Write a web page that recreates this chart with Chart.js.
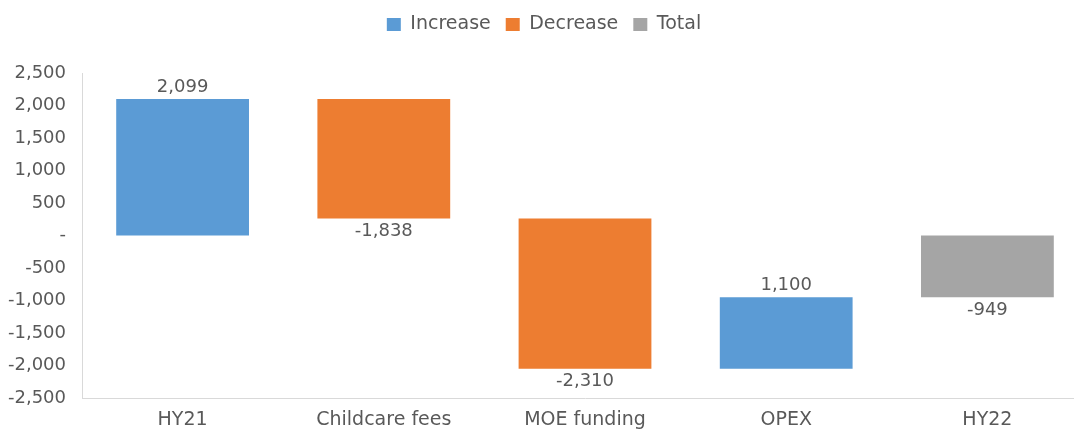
<!DOCTYPE html>
<html>
<head>
<meta charset="utf-8">
<title>HY22 bridge</title>
<script src="https://cdn.jsdelivr.net/npm/chart.js@4.4.1/dist/chart.umd.min.js"></script>
<style>
     html, body { margin: 0; padding: 0; background: #ffffff; overflow: hidden; }
     #wrap { width: 1088px; height: 435px; position: relative; }
</style>
</head>
<body>
<div id="wrap"><canvas id="bridgeChart"></canvas></div>
<script>
     var categories = ['HY21', 'Childcare fees', 'MOE funding', 'OPEX', 'HY22'];
     var changes = [2099, -1838, -2310, 1100, -949];
     var kinds = ['increase', 'decrease', 'decrease', 'increase', 'total'];
     var yTicks = [-2500, -2000, -1500, -1000, -500, 0, 500, 1000, 1500, 2000, 2500];

     var textColor = '#595959';
     var fontFamily = "'DejaVu Sans', sans-serif";

     // floating [from, to] ranges, one array per legend entry
     function buildRanges(kind) {
          var running = 0;
          return changes.map(function (value, i) {
               var from, to;
               if (kinds[i] === 'total' || i === 0) {
                    from = 0;
                    to = value;
               } else {
                    from = running;
                    to = running + value;
               }
               running = to;
               return kinds[i] === kind ? [from, to] : null;
          });
     }

     function formatNumber(v) {
          return v.toLocaleString('en-US');
     }

     // value labels: above rising bars, below falling ones
     var barLabels = {
          id: 'barLabels',
          afterDatasetsDraw: function (chart) {
               var ctx = chart.ctx;
               ctx.save();
               ctx.font = '18px ' + fontFamily;
               ctx.fillStyle = textColor;
               ctx.textAlign = 'center';
               ctx.textBaseline = 'middle';
               chart.data.datasets.forEach(function (ds, di) {
                    chart.getDatasetMeta(di).data.forEach(function (bar, i) {
                         if (!ds.data[i]) return;
                         var value = changes[i];
                         var top = Math.min(bar.y, bar.base);
                         var bottom = Math.max(bar.y, bar.base);
                         var y = value >= 0 ? top - 12 : bottom + 13;
                         ctx.fillText(formatNumber(value), bar.x, y);
                    });
               });
               ctx.restore();
          }
     };

     var legendSpace = {
          id: 'legendSpace',
          beforeInit: function (chart) {
               var fit = chart.legend.fit;
               chart.legend.fit = function () {
                    fit.call(this);
                    this.height = 73;
               };
          }
     };

     function dataset(label, kind, color) {
          return {
               label: label,
               data: buildRanges(kind),
               backgroundColor: color,
               borderWidth: 0,
               grouped: false,
               barPercentage: 0.66,
               categoryPercentage: 1
          };
     }

     new Chart(document.getElementById('bridgeChart'), {
          type: 'bar',
          data: {
               labels: categories,
               datasets: [
                    dataset('Increase', 'increase', '#5B9BD5'),
                    dataset('Decrease', 'decrease', '#ED7D31'),
                    dataset('Total', 'total', '#A5A5A5')
               ]
          },
          options: {
               responsive: true,
               maintainAspectRatio: false,
               animation: false,
               layout: { padding: 0 },
               plugins: {
                    legend: {
                         display: true,
                         position: 'top',
                         labels: {
                              boxWidth: 14,
                              boxHeight: 13,
                              padding: 15,
                              color: textColor,
                              font: { family: fontFamily, size: 19 }
                         }
                    },
                    tooltip: { enabled: false }
               },
               scales: {
                    x: {
                         grid: { display: false, drawTicks: false },
                         border: { display: true, color: '#D9D9D9', width: 1 },
                         ticks: {
                              color: textColor,
                              padding: 11,
                              maxRotation: 0,
                              font: { family: fontFamily, size: 19 }
                         },
                         afterFit: function (scale) { scale.height = 37; }
                    },
                    y: {
                         min: yTicks[0],
                         max: yTicks[yTicks.length - 1],
                         grid: { display: false, drawTicks: false },
                         border: { display: true, color: '#D9D9D9', width: 1 },
                         afterBuildTicks: function (scale) {
                              scale.ticks = yTicks.map(function (v) { return { value: v }; });
                         },
                         ticks: {
                              color: textColor,
                              padding: 16,
                              font: { family: fontFamily, size: 18 },
                              callback: function (v) { return v === 0 ? '-' : formatNumber(v); }
                         },
                         afterFit: function (scale) { scale.width = 82; }
                    }
               }
          },
          plugins: [legendSpace, barLabels]
     });
</script>
</body>
</html>
